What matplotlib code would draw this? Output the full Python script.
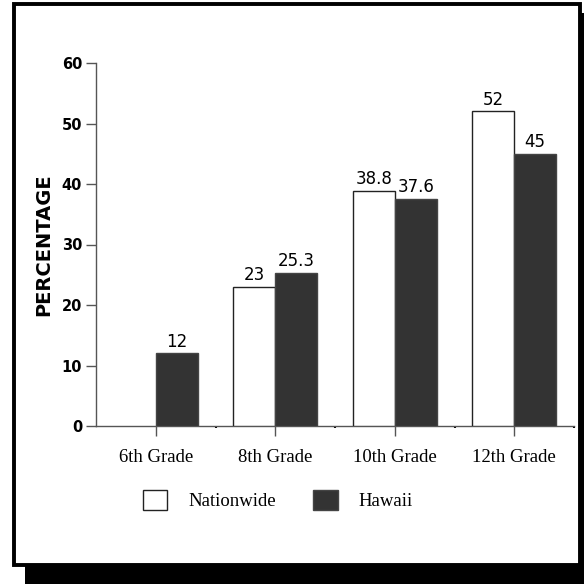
"""
Bar chart : percentage by grade, Nationwide vs Hawaii
"""

import matplotlib
matplotlib.use("Agg")
import matplotlib.pyplot as plt
import numpy as np
from matplotlib.patches import Rectangle, Patch

############   DATA   #############
grades = ["6th Grade", "8th Grade", "10th Grade", "12th Grade"]
nationwide = [np.nan, 23, 38.8, 52]
hawaii = [12, 25.3, 37.6, 45]
y_ticks = [0, 10, 20, 30, 40, 50, 60]

white_col = "#ffffff"
dark_col = "#333333"
axis_col = "#555555"
W = 584.0

#--- Figure + frame with shadow ---
fig = plt.figure(figsize=(5.84, 5.84), dpi=100)
fig.patch.set_facecolor("white")

def px_rect(x0, y0, x1, y1, **kw):
    # rectangle given in pixels (origin top left)
    return Rectangle((x0 / W, 1 - y1 / W), (x1 - x0) / W, (y1 - y0) / W,
                     transform=fig.transFigure, **kw)

fig.patches.append(px_rect(25, 13, 600, 600, facecolor="black", edgecolor="none", zorder=0))
fig.patches.append(px_rect(13.5, 3.5, 579.5, 565, facecolor="white", edgecolor="black",
                           linewidth=2.8, zorder=1))

#--- Axes ---
ax = fig.add_axes([96 / W, 1 - 426 / W, 478 / W, 363 / W])
ax.set_zorder(2)
ax.patch.set_alpha(0)

x = np.arange(len(grades))
bw = 0.35
ax.bar(x - bw / 2, nationwide, bw, color=white_col, edgecolor="#222222", linewidth=1.0, zorder=3)
ax.bar(x + bw / 2, hawaii, bw, color=dark_col, edgecolor="#444444", linewidth=1.0, zorder=3)

# value labels above bars
for xi, v in zip(x - bw / 2, nationwide):
    if not np.isnan(v):
        ax.annotate(f"{v:g}", (xi, v), xytext=(0, 2), textcoords="offset points",
                    ha="center", va="bottom", fontsize=12, family="DejaVu Sans")
for xi, v in zip(x + bw / 2, hawaii):
    ax.annotate(f"{v:g}", (xi, v), xytext=(0, 2), textcoords="offset points",
                ha="center", va="bottom", fontsize=12, family="DejaVu Sans")

ax.set_xlim(-0.5, len(grades) - 0.5)
ax.set_ylim(0, 60)
ax.set_yticks(y_ticks)
ax.set_yticklabels([str(t) for t in y_ticks], fontsize=10.5, fontweight="bold", family="DejaVu Sans")
ax.set_xticks(x)
ax.set_xticklabels(grades, fontsize=13.5, family="Liberation Serif")
ax.set_xticks(np.arange(len(grades)) + 0.5, minor=True)

for s in ["top", "right"]:
    ax.spines[s].set_visible(False)
for s in ["left", "bottom"]:
    ax.spines[s].set_color(axis_col)
    ax.spines[s].set_linewidth(1.0)

ax.tick_params(axis="y", length=7, width=1.0, color=axis_col, pad=3)
ax.tick_params(axis="x", which="major", length=7.5, width=1.0, color=axis_col, pad=9)
ax.tick_params(axis="x", which="minor", length=1.5, width=1.5, color="black")

ax.set_ylabel("PERCENTAGE", fontsize=14, fontweight="bold", family="DejaVu Sans", labelpad=6)

#--- Legend ---
handles = [Patch(facecolor=white_col, edgecolor="#222222", linewidth=1.0, label="Nationwide"),
           Patch(facecolor=dark_col, edgecolor="#444444", linewidth=1.0, label="Hawaii")]
fig.legend(handles=handles, loc="center left", bbox_to_anchor=(143 / W, 1 - 500 / W),
           ncol=2, frameon=False, prop={"family": "Liberation Serif", "size": 13.5},
           handlelength=1.3, handleheight=1.3, handletextpad=1.1, columnspacing=2.0,
           borderpad=0, borderaxespad=0)

plt.savefig("out.png", dpi=100)
